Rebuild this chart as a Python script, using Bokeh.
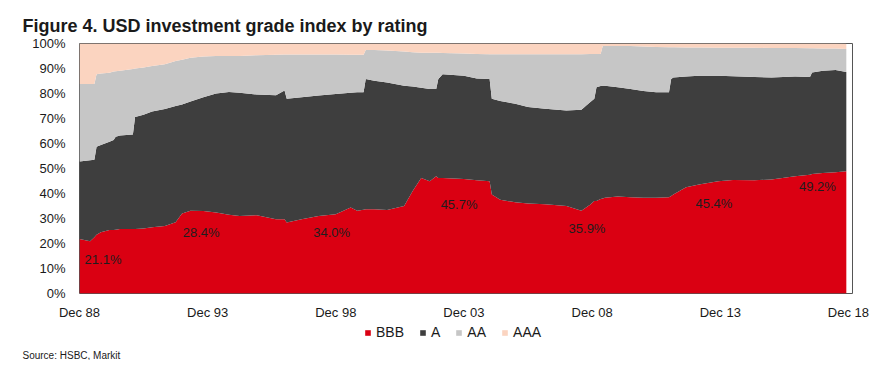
import pandas as pd
from bokeh.plotting import figure
from bokeh.layouts import column
from bokeh.models import (ColumnDataSource, FixedTicker, DatetimeTickFormatter,
                          PrintfTickFormatter, Range1d, Legend, LegendItem)
from bokeh.core.properties import value
from bokeh.embed import file_html
from bokeh.resources import INLINE

# ---------------- data (share of index by rating, %) ----------------
dates = ["1988-12", "1989-05", "1989-07", "1989-08", "1989-10", "1990-02", "1990-04", "1990-05",
         "1990-07", "1991-01", "1991-02", "1991-06", "1991-10", "1992-04", "1992-09", "1992-12",
         "1993-04", "1993-10", "1994-04", "1994-10", "1995-03", "1995-11", "1996-08", "1996-12",
         "1997-01", "1997-08", "1998-04", "1998-12", "1999-07", "1999-10", "2000-01", "2000-02",
         "2000-06", "2000-12", "2001-08", "2001-12", "2002-04", "2002-08", "2002-11", "2002-12",
         "2003-02", "2003-12", "2004-06", "2004-12", "2005-01", "2005-05", "2005-12", "2006-06",
         "2007-02", "2007-12", "2008-07", "2008-11", "2009-01", "2009-02", "2009-04", "2009-05",
         "2009-06", "2009-12", "2010-06", "2010-12", "2011-06", "2011-12", "2012-01", "2012-02",
         "2012-08", "2013-02", "2013-11", "2014-06", "2015-04", "2015-12", "2016-11", "2017-06",
         "2017-07", "2017-12", "2018-06", "2018-11"]

bbb = [21.8, 20.9, 22.5, 23.5, 24.5, 25.4, 25.4, 25.5, 25.8, 25.8, 25.8, 26.0, 26.5, 27.0, 28.5, 32.0,
       33.1, 33.0, 32.4, 31.5, 31.0, 31.3, 29.7, 29.7, 28.4, 29.7, 31.0, 31.7, 34.4, 33.1, 33.5, 33.7,
       33.7, 33.4, 35.0, 41.0, 46.2, 44.9, 46.9, 46.2, 46.2, 45.8, 45.3, 44.9, 39.6, 37.5, 36.5, 36.0,
       35.7, 35.0, 33.1, 35.5, 37.0, 37.0, 37.8, 38.0, 38.3, 38.8, 38.5, 38.3, 38.3, 38.5, 39.0, 39.6,
       42.5, 43.6, 44.9, 45.4, 45.3, 45.6, 46.9, 47.5, 47.8, 48.2, 48.5, 48.9]

a = [31.0, 32.4, 31.0, 35.2, 34.9, 35.3, 36.0, 37.2, 37.4, 37.8, 44.8, 45.5, 46.3, 46.8, 46.5, 43.6,
     43.7, 45.5, 47.6, 49.1, 49.3, 48.3, 49.6, 51.5, 49.5, 48.8, 48.2, 48.1, 45.9, 47.4, 47.0, 52.1,
     51.4, 51.0, 48.1, 41.8, 36.1, 36.9, 34.9, 39.6, 41.5, 41.3, 40.7, 40.9, 38.3, 39.5, 39.4, 38.6,
     38.2, 38.2, 40.4, 41.0, 40.9, 45.5, 45.2, 45.1, 44.8, 43.7, 43.3, 42.7, 42.2, 42.0, 46.8, 46.8,
     44.3, 43.5, 42.2, 41.5, 41.3, 40.8, 39.9, 39.1, 40.6, 40.9, 40.9, 39.7]

aa = [31.0, 30.5, 30.3, 29.0, 28.6, 27.6, 27.4, 26.2, 25.9, 26.2, 19.4, 18.9, 18.2, 17.9, 18.0, 17.9,
      17.5, 16.3, 15.0, 14.4, 14.7, 15.7, 16.2, 14.4, 17.7, 17.1, 16.4, 15.8, 15.2, 15.0, 15.0, 11.6,
      12.3, 12.8, 13.7, 13.7, 14.0, 14.5, 14.5, 10.5, 8.5, 8.9, 9.8, 9.9, 17.8, 18.7, 19.8, 21.1,
      21.8, 22.5, 22.2, 19.3, 17.9, 13.3, 12.8, 15.9, 15.9, 16.5, 17.2, 17.8, 18.1, 18.0, 12.7, 12.1,
      11.6, 11.3, 11.2, 11.4, 11.7, 11.8, 11.4, 11.5, 9.7, 8.9, 8.6, 9.2]

aaa = [16.2, 16.2, 16.2, 12.3, 12.0, 11.7, 11.2, 11.1, 10.9, 10.2, 10.0, 9.6, 9.0, 8.3, 7.0, 6.5,
       5.7, 5.2, 5.0, 5.0, 5.0, 4.7, 4.5, 4.4, 4.4, 4.4, 4.4, 4.4, 4.5, 4.5, 4.5, 2.6,
       2.6, 2.8, 3.2, 3.5, 3.7, 3.7, 3.7, 3.7, 3.8, 4.0, 4.2, 4.3, 4.3, 4.3, 4.3, 4.3,
       4.3, 4.3, 4.3, 4.2, 4.2, 4.2, 4.2, 1.0, 1.0, 1.0, 1.0, 1.2, 1.4, 1.5, 1.5, 1.5,
       1.6, 1.6, 1.7, 1.7, 1.7, 1.8, 1.8, 1.9, 1.9, 2.0, 2.0, 2.1]

ratings = ["BBB", "A", "AA", "AAA"]
colors = ["#DA0012", "#3E3E3E", "#C6C6C6", "#FBD4C0"]

x_tick_dates = ["1988-12-01", "1993-12-01", "1998-12-01", "2003-12-01",
                "2008-12-01", "2013-12-01", "2018-12-01"]
y_ticks = [0, 10, 20, 30, 40, 50, 60, 70, 80, 90, 100]

label_texts = ["21.1%", "28.4%", "34.0%", "45.7%", "35.9%", "45.4%", "49.2%"]
label_dates = ["1989-02-12", "1992-12-12", "1998-01-14", "2003-01-03",
               "2007-12-31", "2012-12-12", "2016-12-26"]
label_y = [13.8, 24.5, 24.5, 35.8, 26.1, 36.0, 42.7]

title_text = "Figure 4. USD investment grade index by rating"
source_text = "Source: HSBC, Markit"

# ---------------- main chart ----------------
FONT = "Liberation Sans"
W = 874

source = ColumnDataSource(dict(date=pd.to_datetime(dates), BBB=bbb, A=a, AA=aa, AAA=aaa))

p = figure(width=W, height=322, x_axis_type="datetime",
           output_backend="svg", toolbar_location=None,
           x_range=Range1d(pd.Timestamp("1988-12-01"), pd.Timestamp("2019-01-28")),
           y_range=Range1d(0, 100),
           min_border_left=79, min_border_right=22, min_border_top=43, min_border_bottom=27)

p.varea_stack(stackers=ratings, x="date", color=colors, source=source)

lbl_src = ColumnDataSource(dict(x=pd.to_datetime(label_dates), y=label_y, text=label_texts))
p.text(x="x", y="y", text="text", source=lbl_src, text_font=value(FONT),
       text_font_size=value("13px"), text_color="#1E1E1E",
       text_align="left", text_baseline="middle")

p.xgrid.visible = False
p.ygrid.visible = False
p.outline_line_color = "#555555"
p.outline_line_width = 1
p.background_fill_color = "white"
p.border_fill_color = "white"

p.yaxis.ticker = FixedTicker(ticks=y_ticks)
p.yaxis.formatter = PrintfTickFormatter(format="%d%%")
p.xaxis.ticker = FixedTicker(ticks=[pd.Timestamp(d).value / 1e6 for d in x_tick_dates])
fmt = "%b %y"
p.xaxis.formatter = DatetimeTickFormatter(
    milliseconds=fmt, seconds=fmt, minsec=fmt, minutes=fmt, hourmin=fmt, hours=fmt,
    days=fmt, months=fmt, years=fmt)

for ax in (p.xaxis, p.yaxis):
    ax.axis_line_color = None
    ax.major_tick_line_color = None
    ax.minor_tick_line_color = None
    ax.major_tick_out = 0
    ax.major_tick_in = 0
    ax.minor_tick_out = 0
    ax.major_label_text_font = FONT
    ax.major_label_text_font_size = "13px"
    ax.major_label_text_color = "#1A1A1A"
p.yaxis.major_label_standoff = 14
p.xaxis.major_label_standoff = 11

p.title.text = title_text
p.title.align = "left"
p.title.offset = -57
p.title.text_font = FONT
p.title.text_font_style = "bold"
p.title.text_font_size = "18px"
p.title.text_color = "#1A1A1A"
p.title.standoff = 16

# ---------------- footer strip: legend + source ----------------
q = figure(width=W, height=38, output_backend="svg", toolbar_location=None,
           x_range=Range1d(0, 1), y_range=Range1d(0, 1),
           x_axis_location=None, y_axis_location=None,
           min_border=0, outline_line_color=None,
           title=source_text, title_location="below")
q.xgrid.visible = False
q.ygrid.visible = False
q.background_fill_color = "white"
q.border_fill_color = "white"
q.title.align = "left"
q.title.offset = -57
q.title.text_font = FONT
q.title.text_font_style = "normal"
q.title.text_font_size = "10px"
q.title.text_color = "#1A1A1A"
q.title.standoff = 0

# one-point (invisible) areas that only carry the legend swatch colours
swatches = [q.varea(x=[0], y1=[0], y2=[0], fill_color=c) for c in colors]
lg = Legend(items=[LegendItem(label=r, renderers=[s]) for r, s in zip(ratings, swatches)],
            orientation="horizontal", location=(285, 7),
            glyph_width=7, glyph_height=7, label_standoff=5, spacing=15,
            padding=0, margin=0, label_width=0, label_height=16,
            border_line_color=None, background_fill_alpha=0,
            label_text_font=FONT, label_text_font_size="14px", label_text_color="#1A1A1A")
q.add_layout(lg)

layout = column(p, q, spacing=0)
open("out.html", "w").write(file_html(layout, INLINE))
